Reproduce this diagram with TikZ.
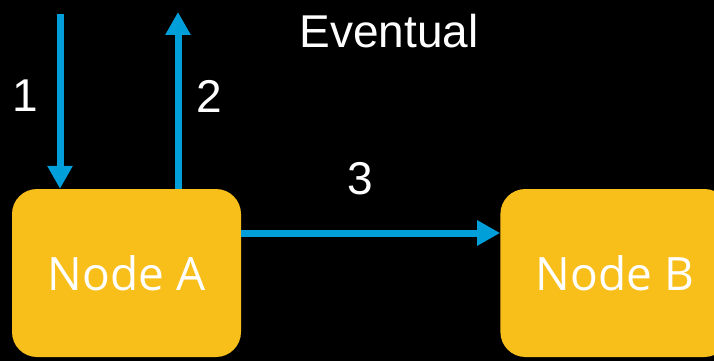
\documentclass[tikz,border=0pt]{standalone}
\usepackage{fontspec}
\setmainfont{Liberation Sans}
\newfontfamily\boxfont{Open Sans}
\usetikzlibrary{arrows.meta,positioning}
\definecolor{boxyellow}{HTML}{F8BE1A}
\definecolor{msgblue}{HTML}{009FDA}
\tikzset{
  server/.style={rectangle, rounded corners=25pt, fill=boxyellow, text=white,
    minimum width=229pt, minimum height=168pt, font=\boxfont\fontsize{46}{46}\selectfont},
  msg/.style={draw=msgblue, line width=7pt, -{Triangle[length=23pt,width=24pt]}},
  lbl/.style={text=white, font=\fontsize{46}{46}\selectfont}
}

\begin{document}
\begin{tikzpicture}[x=1pt,y=-1pt]
  \fill[black] (0,0) rectangle (714,361);
  \useasboundingbox (0,0) rectangle (714,361);
  \node[server] (nodeA) at (126.5,273) {Node A};
  \node[server] (nodeB) [right=259pt of nodeA] {Node B};
  \coordinate (client_in) at (60,14);
  \coordinate (client_out) at (178,12);
  \draw[msg] (client_in) -- (client_in |- nodeA.north);
  \draw[msg] (client_out |- nodeA.north) -- (client_out);
  \draw[msg] ([yshift=40pt]nodeA.east) -- ([yshift=40pt]nodeB.west);
  \node[lbl] (l_1) at (25,96) {1};
  \node[lbl] (l_2) at (209,96) {2};
  \node[lbl] (l_3) at (360,179) {3};
  \node[lbl] (title) at (389,31) {Eventual};
\end{tikzpicture}
\end{document}
